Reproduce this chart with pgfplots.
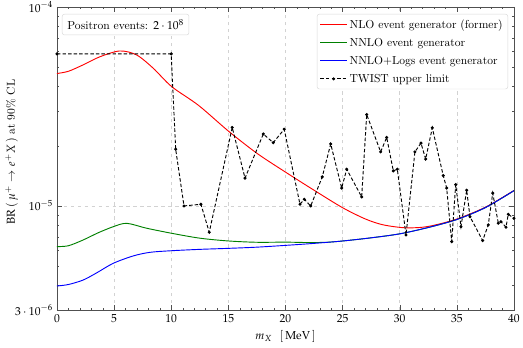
\documentclass[border=0pt]{standalone}
\usepackage{mathpazo}
\usepackage{pgfplots}
\pgfplotsset{compat=1.18}
\usetikzlibrary{calc}

\definecolor{mplgreen}{RGB}{0,128,0}
\definecolor{framegray}{RGB}{80,80,80}

\begin{document}
\begin{tikzpicture}
\begin{axis}[
  scale only axis,
  width=394.8pt, height=261.8pt,
  ymode=log,
  xmin=0, xmax=40,
  ymin=3e-6, ymax=1e-4,
  xtick={0,5,...,40},
  minor x tick num=4,
  ytick={3e-6,1e-5,1e-4},
  yticklabels={$3\cdot10^{-6}$,$10^{-5}$,$10^{-4}$},
  minor ytick={4e-6,5e-6,6e-6,7e-6,8e-6,9e-6,2e-5,3e-5,4e-5,5e-5,6e-5,7e-5,8e-5,9e-5},
  tick align=inside,
  major tick length=4pt, minor tick length=2pt,
  axis line style={framegray},
  tick style={framegray},
  xmajorgrids, ymajorgrids,
  major grid style={dashed, gray!35, line width=0.4pt},
  xlabel={$m_X\ \ [\,\mathrm{MeV}\,]$},
  ylabel={$\mathrm{BR}\,(\,\mu^+\to e^+X\,)$ at 90\% CL},
  ylabel style={at={(axis description cs:-0.099,0.522)}, anchor=center},
  legend cell align=left,
  legend style={at={(rel axis cs:0.987,0.977)}, anchor=north east,
    draw=gray!30, rounded corners=2pt, fill=white, inner sep=2.5pt,
    row sep=3pt},
  legend image code/.code={%
    \draw[mark repeat=2,mark phase=2,#1]
      plot coordinates {(0cm,0cm) (0.4cm,0cm) (0.8cm,0cm)};},
]
\addplot[color=red, line width=0.8pt, smooth] coordinates {
  (0,4.63e-5)(1,4.75e-5)(2.3,5.12e-5)(3.76,5.62e-5)(5.5,6.01e-5)
  (6.97,5.74e-5)(8.43,4.92e-5)(10.04,3.98e-5)(12.4,3.2e-5)(15,2.38e-5)
  (17.5,1.84e-5)(20,1.48e-5)(22.5,1.20e-5)(25,9.8e-6)(27,8.6e-6)
  (28.5,8.05e-6)(30.3,7.78e-6)(31.8,7.8e-6)(33,8.0e-6)(35,8.6e-6)
  (37.5,9.86e-6)(40,1.196e-5)};
\addlegendentry{NLO event generator (former)}
\addplot[color=mplgreen, line width=0.8pt, smooth] coordinates {
  (0,6.25e-6)(1,6.31e-6)(2.3,6.75e-6)(3.6,7.33e-6)(4.93,7.87e-6)
  (6.1,8.18e-6)(7.85,7.73e-6)(10.04,7.29e-6)(12.5,6.89e-6)(15,6.67e-6)
  (17.5,6.57e-6)(20,6.58e-6)(22,6.55e-6)(23.6,6.57e-6)(25,6.668e-6)
  (27.5,6.918e-6)(30,7.244e-6)(32.5,7.798e-6)(35,8.551e-6)
  (37.5,9.817e-6)(40,1.194e-5)};
\addlegendentry{NNLO event generator}
\addplot[color=blue, line width=0.8pt, smooth] coordinates {
  (0,3.963e-6)(1,4.03e-6)(2.3,4.246e-6)(3.5,4.62e-6)(4.93,5.152e-6)
  (6.68,5.61e-6)(8.14,5.848e-6)(10,5.957e-6)(12.5,6.053e-6)(15,6.124e-6)
  (17.5,6.209e-6)(20,6.339e-6)(22.5,6.486e-6)(25,6.668e-6)(27.5,6.918e-6)
  (30,7.244e-6)(32.5,7.798e-6)(35,8.551e-6)(37.5,9.817e-6)(40,1.194e-5)};
\addlegendentry{NNLO+Logs event generator}
\addplot[color=black, line width=0.8pt, dash pattern=on 3pt off 1.8pt,
  mark=*, mark size=0.9pt, mark options={solid}] coordinates {
  (0,5.81e-5)(10,5.81e-5)(10.39,1.93e-5)(11.12,1.0e-5)(12.60,1.02e-5)
  (13.33,7.38e-6)(15.34,2.48e-5)(16.46,1.38e-5)(18.06,2.30e-5)
  (18.93,2.08e-5)(19.89,2.43e-5)(21.27,1.02e-5)(21.65,1.08e-5)
  (22.21,1.00e-5)(23.22,1.40e-5)(23.96,2.05e-5)(24.92,1.23e-5)
  (25.36,1.53e-5)(26.67,1.11e-5)(27.11,2.88e-5)(28.33,1.87e-5)
  (28.86,2.21e-5)(29.44,1.50e-5)(29.79,1.53e-5)(30.55,7.15e-6)
  (31.33,1.87e-5)(31.86,2.07e-5)(32.27,1.72e-5)(32.85,2.47e-5)
  (33.81,1.42e-5)(34.11,1.23e-5)(34.55,6.62e-6)(34.90,1.28e-5)
  (35.36,7.87e-6)(35.86,1.20e-5)(36.15,8.83e-6)(37.26,6.70e-6)
  (37.75,8.03e-6)(38.14,1.16e-5)(38.63,8.19e-6)(38.86,8.34e-6)
  (39.30,7.82e-6)(39.50,9.08e-6)(40,8.67e-6)};
\addlegendentry{TWIST upper limit}
\node[draw=gray!30, rounded corners=2pt, fill=white, anchor=north west,
  inner sep=4.5pt] at (rel axis cs:0.011,0.977) {Positron events: $2\cdot10^8$};
\end{axis}
\pgfresetboundingbox
\useasboundingbox ($(current axis.south west)+(-49.2pt,-32.8pt)$)
  rectangle ($(current axis.north east)+(7.8pt,6pt)$);
\end{tikzpicture}
\end{document}
